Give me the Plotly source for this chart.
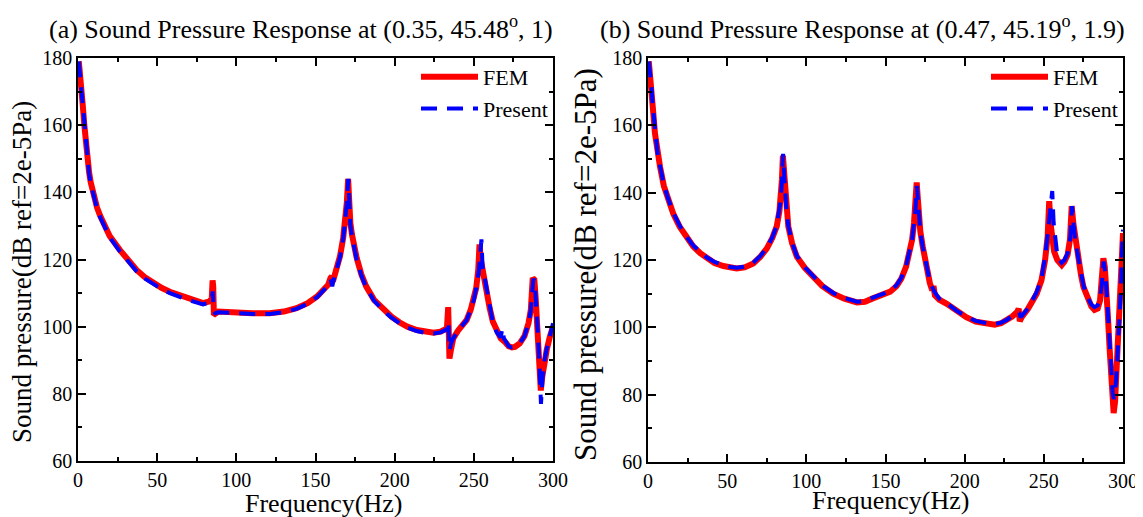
import plotly.graph_objects as go

# ---- panel (a): response at (0.35, 45.48 deg, 1) ----
freq_a_fem = [0.5, 1, 1.5, 2, 3, 4, 5, 6, 7, 8, 10, 12, 14, 16, 20, 26.5, 32, 37, 42, 47.5, 53, 58,
              68.7, 79, 83, 84.5, 85.0, 85.4, 85.8, 86.5, 88.6, 95, 100, 110, 121, 130, 138, 145,
              151, 155, 158, 159.5, 160.3, 161, 163, 165.5, 167.5, 168.7, 169.8, 170.6, 171.2,
              172, 173, 174.5, 176, 179, 182, 187, 193, 198, 203, 208, 214, 219, 224.5, 229, 233,
              233.8, 234.2, 234.6, 235.5, 237, 240, 243, 245.5, 248, 250, 251.5, 252.8, 253.6,
              254.4, 255.2, 256, 257, 258.5, 260, 262, 264.5, 267, 270, 272, 274, 276, 279, 282,
              284.5, 286, 287.2, 288.2, 289, 290, 291, 292.3, 293.2, 294.5, 296, 298, 300]
spl_a_fem = [179, 177, 173, 170, 166, 160, 154, 149.5, 146, 143, 139, 135.5, 133, 130.8, 127, 122.8,
             119.5, 116.9, 114.8, 113, 111.5, 110.4, 108.5, 107, 107.5, 108.5, 113.8, 112, 104,
             103.8, 104.5, 104.3, 104.2, 104, 104, 104.5, 105.5, 107, 109, 110.8, 112.5, 114.5,
             115, 113.5, 117, 121, 126.5, 131.5, 137, 144, 137, 131, 127.5, 123.5, 120.5, 115.5,
             112, 108, 105, 103, 101.3, 100, 99, 98.5, 98.2, 98.5, 99.5, 105.8, 102, 90.5, 93,
             96.5, 98.8, 100.5, 102, 105, 108, 111.5, 117, 124.5, 120, 117.5, 116, 113.5, 109,
             105.5, 101.5, 98.5, 96.5, 95.3, 94.2, 93.8, 94, 95, 97.2, 101, 105, 114.5, 114, 109,
             101, 93, 81, 85, 89.5, 93, 97, 100]

freq_a_pre = [0.5, 1, 1.5, 2, 3, 4, 5, 6, 7, 8, 10, 12, 14, 16, 20, 26.5, 32, 37, 42, 47.5, 53, 58,
              68.7, 79, 83, 84.6, 85.1, 85.7, 86.5, 88.6, 95, 100, 110, 121, 130, 138, 145, 151,
              155, 158, 159.6, 160.6, 161.5, 163, 165.5, 167.5, 168.7, 169.8, 170.7, 171.3, 172,
              173, 174.5, 176, 179, 182, 187, 193, 198, 203, 208, 214, 219, 224.5, 229, 233, 233.9,
              234.7, 235.6, 237, 240, 243, 245.5, 248, 250, 251.5, 253, 254.0, 254.8, 255.5, 256.3,
              257, 258.5, 260, 262, 264.5, 267, 268, 269, 272, 274, 276, 279, 282, 284.5, 286,
              287.6, 288.5, 289.3, 290.3, 291.3, 292.4, 293.3, 294.5, 296, 298, 300]
spl_a_pre = [179, 176.5, 172.5, 169.5, 165.5, 159.5, 153.5, 149, 145.6, 142.6, 138.6, 135.2, 132.6,
             130.4, 126.6, 122.4, 119.1, 116.5, 114.4, 112.6, 111.1, 110, 108.1, 106.6, 107.2,
             108, 110.5, 104.6, 104, 104.3, 104.1, 104, 103.8, 103.8, 104.3, 105.3, 106.8, 108.8,
             110.6, 112.3, 114, 112, 114, 116.8, 120.7, 126.2, 131.2, 136.8, 144, 136.5, 130.5,
             127, 123, 120, 115.2, 111.7, 107.7, 104.7, 102.7, 101, 99.7, 98.7, 98.2, 98, 98.3,
             99.2, 101.5, 93, 95, 96.5, 98.8, 100.5, 102, 105, 108, 111.5, 116, 121, 126, 118,
             116, 113.5, 109, 105.3, 101.3, 98.3, 96.8, 99.5, 96.5, 94.2, 93.8, 94, 95, 97.2, 101,
             105, 114.3, 113, 108, 99, 90, 77, 84, 89.5, 93.3, 97.5, 101]

# ---- panel (b): response at (0.47, 45.19 deg, 1.9) ----
freq_b_fem = [0.5, 1, 1.5, 2.3, 3, 4.4, 6, 7.6, 10, 12.8, 16, 20, 24, 28.6, 33, 37, 42, 47.6, 52, 56,
              61, 66.5, 71, 75, 78.5, 81.3, 83, 83.8, 84.6, 85.2, 85.8, 86.5, 87.4, 88.6, 91, 94,
              99, 104.4, 110, 117, 124, 132, 137, 142, 148, 153, 157, 160, 163, 165, 166.8, 168,
              169, 169.7, 170.3, 170.9, 172, 173.5, 176, 178, 179.5, 180.3, 181.2, 184, 188.7, 195,
              201, 207, 214, 219, 223, 226.6, 230, 233.3, 234.1, 234.8, 236, 240, 243, 245.5,
              248.5, 250.8, 252.4, 253.4, 254.2, 255.2, 256.5, 258.5, 260, 261.3, 263, 265, 266.5,
              267.6, 268.6, 270, 272, 273.5, 275, 277.5, 280, 282, 284, 285.5, 286.6, 287.6,
              288.5, 289.5, 290.5, 291.5, 292.5, 293.5, 294.1, 295, 296.2, 297.3, 298.3, 299.2, 300]
spl_b_fem = [179, 177, 174, 170.5, 165.5, 157.6, 151.5, 147.7, 142, 137.8, 133.7, 129.9, 126.8, 124,
             122, 120.5, 119.1, 118.2, 117.7, 117.5, 117.8, 119, 121, 123.4, 126.5, 130, 134.5,
             137.8, 144, 151, 146, 139.8, 134, 130, 125, 121, 117.7, 115, 112.3, 110, 108.5,
             107.4, 107.6, 108.6, 109.7, 110.6, 112.3, 114.5, 118, 122, 126, 131, 136, 143, 139,
             134, 128.5, 124, 117, 113.2, 111, 112.3, 109.5, 108.2, 107, 104.7, 103, 101.7, 101,
             100.8, 101.2, 102, 103.2, 104.6, 105.6, 101.8, 103, 105.5, 107.8, 110, 114, 120, 127,
             137.5, 131, 126, 122.5, 120, 118.8, 118.5, 119.5, 121.5, 126, 136, 131, 125.5, 119.5,
             115.5, 112, 108.5, 106.2, 105.2, 105.6, 108, 113, 120.5, 118, 112, 103, 94, 85, 77,
             74.5, 78, 88, 98, 108, 120, 128]

freq_b_pre = [0.5, 1, 1.5, 2.3, 3, 4.4, 6, 7.6, 10, 12.8, 16, 20, 24, 28.6, 33, 37, 42, 47.6, 52, 56,
              61, 66.5, 71, 75, 78.5, 81.3, 83, 83.9, 84.7, 85.3, 85.9, 86.6, 87.5, 88.6, 91, 94,
              99, 104.4, 110, 117, 124, 132, 137, 142, 148, 153, 157, 160, 163, 165, 166.8, 168,
              169, 169.8, 170.4, 171, 172, 173.5, 176, 178, 181, 184, 188.7, 195, 201, 207, 214,
              219, 223, 226.6, 230, 233.5, 234.4, 235.4, 240, 243, 245.5, 248.5, 250.8, 252.4,
              253.5, 254.5, 255.3, 256.2, 257.3, 258.5, 260, 261.3, 263, 265, 266.7, 267.8, 268.8,
              270, 272, 273.5, 275, 277.5, 280, 282, 284, 285.5, 286.7, 287.7, 288.6, 289.6,
              290.6, 291.6, 292.6, 293.5, 294.1, 295, 296.2, 297.3, 298.3, 299.2, 300]
spl_b_pre = [179, 177.2, 174.3, 170.8, 165.8, 158, 151.8, 148, 142.3, 138.1, 134, 130.2, 127.1,
             124.3, 122.3, 120.8, 119.4, 118.4, 117.9, 117.7, 118, 119.2, 121.2, 123.6, 126.7,
             130.2, 134.6, 138, 144.5, 151.5, 146, 140, 134.2, 130.2, 125.2, 121.2, 117.9, 115.2,
             112.5, 110.2, 108.7, 107.6, 107.8, 108.8, 109.9, 110.8, 112.5, 114.7, 118.2, 122.2,
             126, 131, 135.5, 142, 138, 133.5, 128.3, 124, 117.2, 113.5, 110.5, 108.5, 107.2,
             104.9, 103.2, 101.9, 101.2, 101, 101.4, 102.2, 103.4, 104.5, 104.3, 103, 105.6, 108,
             110.5, 114.5, 121, 127.5, 133, 137, 140.5, 131, 125, 121.5, 120, 119.2, 120, 122,
             126.5, 136, 130.5, 125.5, 120, 116, 112.5, 109, 106.8, 106, 106.5, 108.5, 113, 119.5,
             117, 111, 102, 93, 86, 80.5, 78.7, 80.5, 88.5, 98, 108, 120.5, 129]

FEM_COLOR = "#ff0000"
PRE_COLOR = "#0000ff"
SERIF = "Liberation Serif"

fig = go.Figure()

panels = [
    (freq_a_fem, spl_a_fem, freq_a_pre, spl_a_pre, "x", "y", "legend"),
    (freq_b_fem, spl_b_fem, freq_b_pre, spl_b_pre, "x2", "y2", "legend2"),
]
for f_fem, s_fem, f_pre, s_pre, xa, ya, leg in panels:
    fig.add_trace(go.Scatter(x=f_fem, y=s_fem, mode="lines", name="FEM",
                             line=dict(color=FEM_COLOR, width=6), xaxis=xa, yaxis=ya, legend=leg))
    fig.add_trace(go.Scatter(x=f_pre, y=s_pre, mode="lines", name="Present",
                             line=dict(color=PRE_COLOR, width=4, dash="16px,10px"),
                             xaxis=xa, yaxis=ya, legend=leg))

W, H = 1143, 517
PAGE_PAD = 8  # the page body margin offsets the figure inside the window


def px_x(p):
    return (p - PAGE_PAD) / W


def px_y(p):
    return 1 - (p - PAGE_PAD) / H


axis_common = dict(
    showline=True, linecolor="black", linewidth=1.5, mirror="ticks",
    ticks="inside", ticklen=8, tickwidth=1.5, tickcolor="black",
    showgrid=False, zeroline=False, automargin=False,
    tickfont=dict(family=SERIF, size=20, color="black"),
)

x_common = dict(axis_common, range=[0, 300], dtick=50,
                minor=dict(ticks="inside", ticklen=4, dtick=25, tickcolor="black", tickwidth=1.5))
y_common = dict(axis_common, range=[60, 180], dtick=20,
                minor=dict(ticks="inside", ticklen=4, dtick=10, tickcolor="black", tickwidth=1.5))

legend_common = dict(xanchor="right", y=px_y(56), yanchor="top", itemwidth=57,
                     bgcolor="rgba(0,0,0,0)", font=dict(family=SERIF, size=22, color="black"),
                     tracegroupgap=0)

fig.update_layout(
    template="none",
    width=W, height=H,
    margin=dict(l=0, r=0, t=0, b=0, autoexpand=False),
    plot_bgcolor="white", paper_bgcolor="white",
    font=dict(family=SERIF, color="black"),
    xaxis=dict(x_common, domain=[px_x(78), px_x(553)], anchor="y"),
    yaxis=dict(y_common, domain=[px_y(461), px_y(58)], anchor="x"),
    xaxis2=dict(x_common, domain=[px_x(648), px_x(1123)], anchor="y2"),
    yaxis2=dict(y_common, domain=[px_y(462), px_y(58)], anchor="x2"),
    legend=dict(legend_common, x=px_x(553)),
    legend2=dict(legend_common, x=px_x(1123)),
)

title_font = dict(family=SERIF, size=26, color="black")
annotations = [
    dict(text="(a) Sound Pressure Response at (0.35, 45.48<sup>o</sup>, 1)",
         x=px_x(301), y=px_y(28), font=title_font),
    dict(text="(b) Sound Pressure Response at (0.47, 45.19<sup>o</sup>, 1.9)",
         x=px_x(862), y=px_y(28), font=title_font),
    dict(text="Frequency(Hz)", x=px_x(323), y=px_y(503),
         font=dict(family=SERIF, size=26, color="black")),
    dict(text="Frequency(Hz)", x=px_x(890), y=px_y(500),
         font=dict(family=SERIF, size=26, color="black")),
    dict(text="Sound pressure(dB ref=2e-5Pa)", x=px_x(22), y=px_y(272), textangle=-90,
         font=dict(family=SERIF, size=27, color="black")),
    dict(text="Sound pressure(dB ref=2e-5Pa)", x=px_x(585), y=px_y(265), textangle=-90,
         font=dict(family=SERIF, size=31, color="black")),
]
for a in annotations:
    a.update(xref="paper", yref="paper", showarrow=False, xanchor="center", yanchor="middle")
fig.update_layout(annotations=annotations)

fig.write_html("out.html")
